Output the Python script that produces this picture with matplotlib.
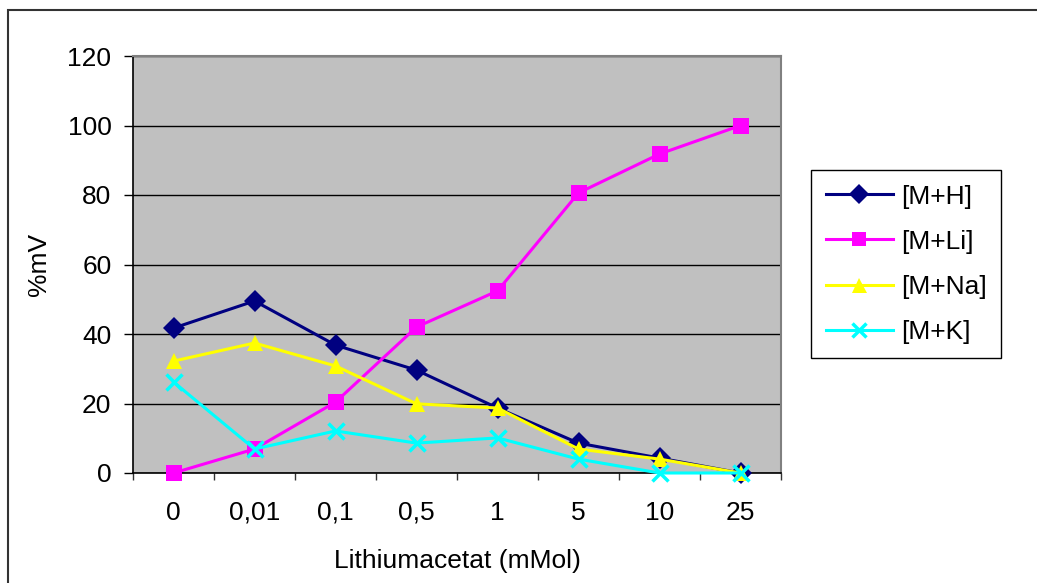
import matplotlib
matplotlib.use("Agg")
import matplotlib.pyplot as plt
from matplotlib.patches import Rectangle
from matplotlib.ticker import FixedLocator

# Li-acetate concentration series (mMol) and relative signal (%mV)
conc_labels = ["0", "0,01", "0,1", "0,5", "1", "5", "10", "25"]
m_h = [41.7, 49.5, 36.8, 29.6, 18.7, 8.6, 4.3, 0.0]
m_li = [0.0, 6.9, 20.4, 42.0, 52.4, 80.6, 91.8, 100.0]
m_na = [32.2, 37.4, 30.8, 19.9, 18.7, 6.9, 4.0, 0.0]
m_k = [26.2, 6.9, 12.1, 8.6, 10.1, 4.0, 0.0, 0.0]

series = [
    ("[M+H]", m_h, "#000080", "D", 11),
    ("[M+Li]", m_li, "#FF00FF", "s", 11),
    ("[M+Na]", m_na, "#FFFF00", "^", 12),
    ("[M+K]", m_k, "#00FFFF", "x", 11),
]

plt.rcParams["font.family"] = ["Liberation Sans", "DejaVu Sans"]
plt.rcParams["font.size"] = 19

W, H = 1037, 583
fig = plt.figure(figsize=(W / 100, H / 100), dpi=100)
ax = fig.add_axes([133 / W, 1 - 473 / H, (781 - 133) / W, (473 - 56) / H])
ax.set_facecolor("#C0C0C0")

x = list(range(len(conc_labels)))
for name, vals, col, mk, ms in series:
    ax.plot(x, vals, color=col, lw=2.2, marker=mk, ms=ms, mew=2.5 if mk == "x" else 0,
            mfc=col, mec=col, label=name, clip_on=False, zorder=3)

ax.set_xlim(-0.5, len(conc_labels) - 0.5)
ax.set_ylim(0, 120)
ax.set_yticks(range(0, 121, 20))
ax.set_xticks(x)
ax.set_xticklabels(conc_labels)
ax.xaxis.set_minor_locator(FixedLocator([i - 0.5 for i in range(len(conc_labels) + 1)]))
ax.tick_params(axis="x", which="major", length=0, pad=20)
ax.tick_params(axis="x", which="minor", length=5, width=1, color="#333333")
ax.tick_params(axis="y", which="major", length=6.5, width=1, pad=9)

ax.yaxis.grid(True, color="black", lw=1)
ax.set_axisbelow(True)
for side in ("left", "bottom"):
    ax.spines[side].set_color("black")
    ax.spines[side].set_linewidth(1.2)
for side in ("right", "top"):
    ax.spines[side].set_color("#808080")
    ax.spines[side].set_linewidth(1.5)

ax.set_xlabel("Lithiumacetat (mMol)")
ax.set_ylabel("%mV")
ax.xaxis.set_label_coords(0.5, -(549 - 473) / (473 - 56))
ax.yaxis.set_label_coords(-(133 - 51) / (781 - 133), 0.5)

leg = fig.legend(loc="upper left", bbox_to_anchor=(811 / W, 1 - 170 / H),
                 frameon=True, fancybox=False, edgecolor="black", framealpha=1,
                 handlelength=2.55, labelspacing=0.8, borderpad=0.55,
                 handletextpad=0.3, borderaxespad=0)
leg.get_frame().set_linewidth(1.0)
for h in leg.legend_handles:
    h.set_markersize(h.get_markersize() * 0.9)

# chart border
fig.patches.append(Rectangle((8 / W, -0.1), 1.2, 1 - 10 / H + 0.1, transform=fig.transFigure,
                             fill=False, ec="#333333", lw=1.5))

fig.savefig("out.png", dpi=100)
